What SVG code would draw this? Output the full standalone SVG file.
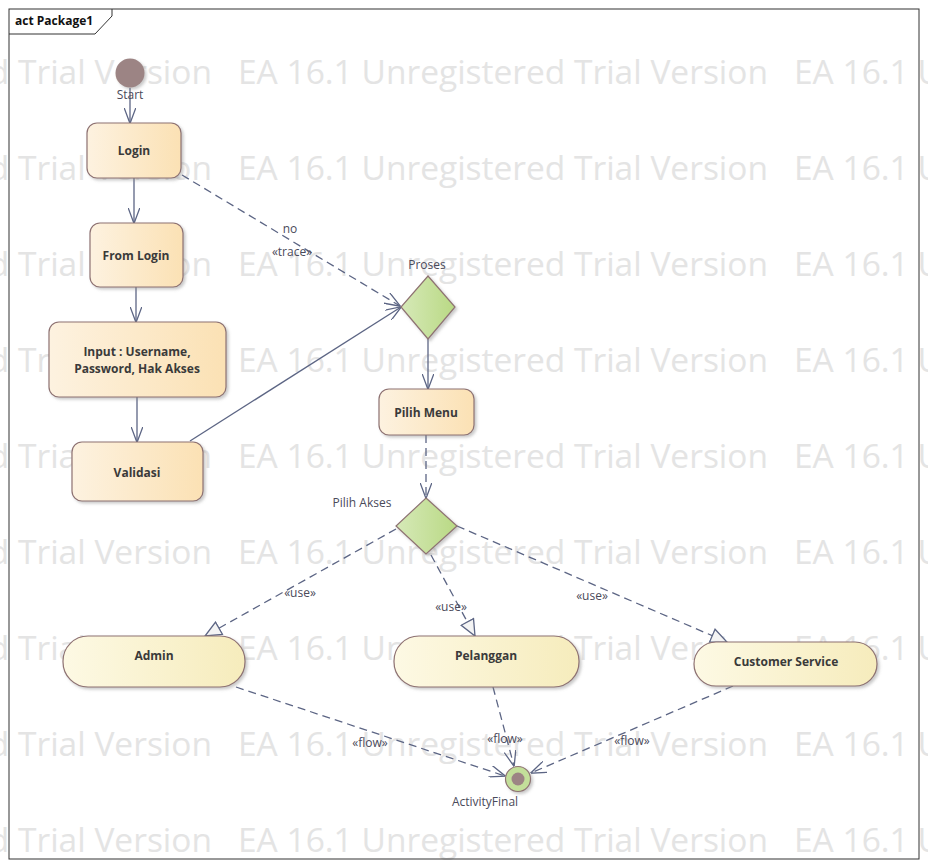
<svg xmlns="http://www.w3.org/2000/svg" width="928" height="867" viewBox="0 0 928 867">
<defs>
<style>
.wm{font-family:"Open Sans","Noto Sans",sans-serif;font-size:32px;fill:#e4e4e4}
.lbl{font-family:"Open Sans","Noto Sans",sans-serif;font-size:12px;fill:#3a3a3a;font-weight:bold;text-anchor:middle}
.sm{font-family:"Open Sans","Noto Sans",sans-serif;font-size:12px;fill:#4a4a5a;text-anchor:middle}
.node{stroke:#8e7272;stroke-width:1.2}
.act{fill:url(#gAct)}
.pill{fill:url(#gPill)}
.dia{fill:url(#gDia)}
.c{fill:none;stroke:#5c6584;stroke-width:1.3}
.d{stroke-dasharray:8 5}
</style>
<linearGradient id="gAct" x1="0" y1="0" x2="1" y2="0"><stop offset="0" stop-color="#fdf2e0"/><stop offset="1" stop-color="#fbe1b4"/></linearGradient>
<linearGradient id="gPill" x1="0" y1="0" x2="1" y2="0"><stop offset="0" stop-color="#fdf9e4"/><stop offset="1" stop-color="#f6ecbc"/></linearGradient>
<linearGradient id="gDia" x1="0" y1="0" x2="1" y2="0"><stop offset="0" stop-color="#d6e9b8"/><stop offset="1" stop-color="#b9d984"/></linearGradient>
<filter id="sh" x="-10%" y="-10%" width="130%" height="140%"><feDropShadow dx="2" dy="2" stdDeviation="1.5" flood-color="#888" flood-opacity="0.45"/></filter>
<marker id="open" viewBox="0 0 16 12" refX="15.5" refY="6" markerWidth="16" markerHeight="12" orient="auto" markerUnits="userSpaceOnUse"><path d="M0,0 L16,6 L0,12" fill="none" stroke="#5c6584" stroke-width="1.3"/></marker>
<marker id="tri" viewBox="0 0 18 16" refX="17" refY="8" markerWidth="18" markerHeight="16" orient="auto" markerUnits="userSpaceOnUse"><path d="M1,1 L17,8 L1,15 Z" fill="#f4f4f4" stroke="#5c6584" stroke-width="1.3"/></marker>
</defs>
<rect width="928" height="867" fill="#ffffff"/>
<g id="watermark">
<text class="wm" y="84"><tspan x="-318" textLength="530" lengthAdjust="spacingAndGlyphs">EA 16.1 Unregistered Trial Version</tspan><tspan x="238" textLength="530" lengthAdjust="spacingAndGlyphs">EA 16.1 Unregistered Trial Version</tspan><tspan x="794" textLength="530" lengthAdjust="spacingAndGlyphs">EA 16.1 Unregistered Trial Version</tspan></text>
<text class="wm" y="180"><tspan x="-318" textLength="530" lengthAdjust="spacingAndGlyphs">EA 16.1 Unregistered Trial Version</tspan><tspan x="238" textLength="530" lengthAdjust="spacingAndGlyphs">EA 16.1 Unregistered Trial Version</tspan><tspan x="794" textLength="530" lengthAdjust="spacingAndGlyphs">EA 16.1 Unregistered Trial Version</tspan></text>
<text class="wm" y="276"><tspan x="-318" textLength="530" lengthAdjust="spacingAndGlyphs">EA 16.1 Unregistered Trial Version</tspan><tspan x="238" textLength="530" lengthAdjust="spacingAndGlyphs">EA 16.1 Unregistered Trial Version</tspan><tspan x="794" textLength="530" lengthAdjust="spacingAndGlyphs">EA 16.1 Unregistered Trial Version</tspan></text>
<text class="wm" y="372"><tspan x="-318" textLength="530" lengthAdjust="spacingAndGlyphs">EA 16.1 Unregistered Trial Version</tspan><tspan x="238" textLength="530" lengthAdjust="spacingAndGlyphs">EA 16.1 Unregistered Trial Version</tspan><tspan x="794" textLength="530" lengthAdjust="spacingAndGlyphs">EA 16.1 Unregistered Trial Version</tspan></text>
<text class="wm" y="468"><tspan x="-318" textLength="530" lengthAdjust="spacingAndGlyphs">EA 16.1 Unregistered Trial Version</tspan><tspan x="238" textLength="530" lengthAdjust="spacingAndGlyphs">EA 16.1 Unregistered Trial Version</tspan><tspan x="794" textLength="530" lengthAdjust="spacingAndGlyphs">EA 16.1 Unregistered Trial Version</tspan></text>
<text class="wm" y="564"><tspan x="-318" textLength="530" lengthAdjust="spacingAndGlyphs">EA 16.1 Unregistered Trial Version</tspan><tspan x="238" textLength="530" lengthAdjust="spacingAndGlyphs">EA 16.1 Unregistered Trial Version</tspan><tspan x="794" textLength="530" lengthAdjust="spacingAndGlyphs">EA 16.1 Unregistered Trial Version</tspan></text>
<text class="wm" y="660"><tspan x="-318" textLength="530" lengthAdjust="spacingAndGlyphs">EA 16.1 Unregistered Trial Version</tspan><tspan x="238" textLength="530" lengthAdjust="spacingAndGlyphs">EA 16.1 Unregistered Trial Version</tspan><tspan x="794" textLength="530" lengthAdjust="spacingAndGlyphs">EA 16.1 Unregistered Trial Version</tspan></text>
<text class="wm" y="756"><tspan x="-318" textLength="530" lengthAdjust="spacingAndGlyphs">EA 16.1 Unregistered Trial Version</tspan><tspan x="238" textLength="530" lengthAdjust="spacingAndGlyphs">EA 16.1 Unregistered Trial Version</tspan><tspan x="794" textLength="530" lengthAdjust="spacingAndGlyphs">EA 16.1 Unregistered Trial Version</tspan></text>
<text class="wm" y="852"><tspan x="-318" textLength="530" lengthAdjust="spacingAndGlyphs">EA 16.1 Unregistered Trial Version</tspan><tspan x="238" textLength="530" lengthAdjust="spacingAndGlyphs">EA 16.1 Unregistered Trial Version</tspan><tspan x="794" textLength="530" lengthAdjust="spacingAndGlyphs">EA 16.1 Unregistered Trial Version</tspan></text>
</g>
<g id="frame">
<rect x="9" y="9" width="910" height="850" fill="none" stroke="#333" stroke-width="1"/>
<path d="M9,34 L95,34 L112,16 L112,9" fill="none" stroke="#333" stroke-width="1"/>
<text x="15" y="25" style="font-family:'Open Sans','Noto Sans',sans-serif;font-size:12px;font-weight:bold;fill:#111">act Package1</text>
</g>
<g id="connectors">
<line class="c" x1="130" y1="88" x2="130" y2="123" marker-end="url(#open)"/>
<line class="c" x1="134" y1="178" x2="134" y2="223" marker-end="url(#open)"/>
<line class="c" x1="136" y1="287" x2="136" y2="322" marker-end="url(#open)"/>
<line class="c" x1="137" y1="397" x2="137" y2="442" marker-end="url(#open)"/>
<line class="c" x1="190" y1="441" x2="401" y2="307" marker-end="url(#open)"/>
<line class="c d" x1="182" y1="175" x2="400" y2="306" marker-end="url(#open)"/>
<text class="sm" x="290" y="233">no</text>
<text class="sm" x="292" y="256">«trace»</text>
<line class="c" x1="428" y1="339" x2="428" y2="389" marker-end="url(#open)"/>
<line class="c d" x1="426" y1="435" x2="426" y2="498" marker-end="url(#open)"/>
<line class="c d" x1="396" y1="529" x2="205" y2="636" marker-end="url(#tri)"/>
<text class="sm" x="300" y="597">«use»</text>
<line class="c d" x1="431" y1="555" x2="475" y2="636" marker-end="url(#tri)"/>
<text class="sm" x="451" y="611">«use»</text>
<line class="c d" x1="457" y1="526" x2="727" y2="642" marker-end="url(#tri)"/>
<text class="sm" x="592" y="600">«use»</text>
<line class="c d" x1="236" y1="687" x2="505" y2="776" marker-end="url(#open)"/>
<text class="sm" x="370" y="747">«flow»</text>
<line class="c d" x1="493" y1="687" x2="514" y2="766" marker-end="url(#open)"/>
<text class="sm" x="505" y="743">«flow»</text>
<line class="c d" x1="733" y1="686" x2="531" y2="773" marker-end="url(#open)"/>
<text class="sm" x="632" y="745">«flow»</text>
</g>
<g id="start">
<circle cx="130" cy="73" r="14.5" fill="#9c8484" filter="url(#sh)"/>
<text class="sm" x="130" y="99">Start</text>
</g>
<g id="login">
<rect class="node act" x="87" y="123" width="94" height="55" rx="10" filter="url(#sh)"/>
<text class="lbl" x="134" y="155">Login</text>
</g>
<g id="fromLogin">
<rect class="node act" x="90" y="223" width="93" height="64" rx="10" filter="url(#sh)"/>
<text class="lbl" x="136" y="260">From Login</text>
</g>
<g id="input">
<rect class="node act" x="49" y="322" width="177" height="75" rx="10" filter="url(#sh)"/>
<text class="lbl" x="137" y="356">Input : Username,</text>
<text class="lbl" x="137" y="373">Password, Hak Akses</text>
</g>
<g id="validasi">
<rect class="node act" x="72" y="442" width="131" height="59" rx="10" filter="url(#sh)"/>
<text class="lbl" x="137" y="477">Validasi</text>
</g>
<g id="proses">
<polygon class="node dia" points="428,276 455,307 428,339 401,307" filter="url(#sh)"/>
<text class="sm" x="427" y="269">Proses</text>
</g>
<g id="pilihMenu">
<rect class="node act" x="379" y="389" width="95" height="46" rx="10" filter="url(#sh)"/>
<text class="lbl" x="426" y="417">Pilih Menu</text>
</g>
<g id="pilihAkses">
<polygon class="node dia" points="426,498 457,526 426,554 396,526" filter="url(#sh)"/>
<text class="sm" x="362" y="507">Pilih Akses</text>
</g>
<g id="admin">
<rect class="node pill" x="63" y="636" width="182" height="51" rx="25" filter="url(#sh)"/>
<text class="lbl" x="154" y="660">Admin</text>
</g>
<g id="pelanggan">
<rect class="node pill" x="394" y="636" width="185" height="51" rx="25" filter="url(#sh)"/>
<text class="lbl" x="486" y="660">Pelanggan</text>
</g>
<g id="customerService">
<rect class="node pill" x="694" y="642" width="183" height="44" rx="22" filter="url(#sh)"/>
<text class="lbl" x="786" y="666">Customer Service</text>
</g>
<g id="activityFinal">
<circle cx="518" cy="779" r="12.5" fill="#c3df9a" stroke="#8e7272" stroke-width="1.2" filter="url(#sh)"/>
<circle cx="518" cy="779" r="6.5" fill="#9c8484"/>
<text class="sm" x="485" y="806">ActivityFinal</text>
</g>
</svg>
